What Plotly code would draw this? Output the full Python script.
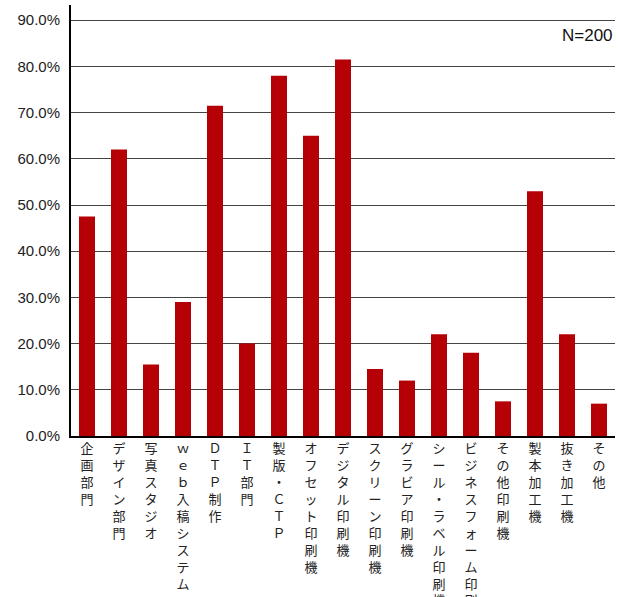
import plotly.graph_objects as go

categories = ["企画部門", "デザイン部門", "写真スタジオ", "ｗｅｂ入稿システム", "ＤＴＰ制作", "ＩＴ部門",
              "製版・ＣＴＰ", "オフセット印刷機", "デジタル印刷機", "スクリーン印刷機", "グラビア印刷機",
              "シール・ラベル印刷機", "ビジネスフォーム印刷機", "その他印刷機", "製本加工機", "抜き加工機", "その他"]
values = [47.5, 62.0, 15.5, 29.0, 71.5, 20.0, 78.0, 65.0, 81.5, 14.5, 12.0, 22.0, 18.0, 7.5, 53.0, 22.0, 7.0]
y_ticks = [0, 10, 20, 30, 40, 50, 60, 70, 80, 90]
y_labels = [f"{v:.1f}%" for v in y_ticks]
note = "N=200"

# stacked vertical labels
tick_text = ["<br>".join(list(c)) for c in categories]

fig = go.Figure(go.Bar(
    x=categories, y=values, width=0.5,
    marker=dict(color="#B50005", line=dict(width=0)),
))

fig.update_layout(
    width=618, height=597,
    margin=dict(l=71, r=3, t=5, b=161, autoexpand=False),
    paper_bgcolor="white", plot_bgcolor="white",
    showlegend=False,
    bargap=0.5,
    font=dict(family="Liberation Sans, Arial, sans-serif", color="#222"),
)
fig.update_xaxes(
    tickmode="array", tickvals=categories, ticktext=tick_text,
    tickangle=0, automargin=False,
    tickfont=dict(family="Noto Sans CJK JP", size=13, color="#222"),
    showline=True, linecolor="black", linewidth=1.5,
    showgrid=False, ticks="", fixedrange=True,
)
fig.update_yaxes(
    range=[0, 93.3], tickmode="array", tickvals=y_ticks, ticktext=y_labels,
    automargin=False,
    tickfont=dict(family="Liberation Sans, Arial, sans-serif", size=15, color="#222"),
    showgrid=True, gridcolor="#444", gridwidth=1,
    showline=True, linecolor="black", linewidth=2,
    ticks="", ticklabelstandoff=6, zeroline=False,
)
fig.add_annotation(
    text=note, x=1, xref="paper", xanchor="right", y=86.8, yref="y", yanchor="middle",
    showarrow=False, font=dict(family="Liberation Sans, Arial, sans-serif", size=17, color="#111"),
)

fig.write_html("out.html")
